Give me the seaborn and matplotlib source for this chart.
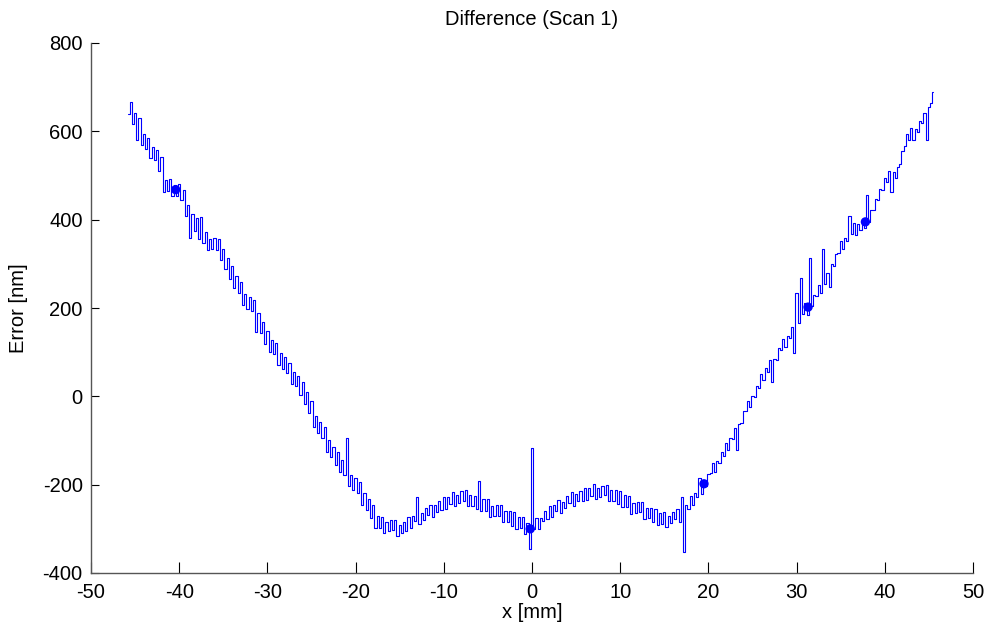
import numpy as np
import pandas as pd
import matplotlib
matplotlib.use("Agg")
import matplotlib.pyplot as plt
import seaborn as sns

# scan positions: 183 samples, 0.5 mm apart; the second reading sits 0.25 mm later
x_mm = np.linspace(-45.75, 45.25, 183)

# two readings per position, nm
y_first = [
    640, 616, 580, 568, 560, 539, 534, 511, 463, 465, 454, 454, 444, 408, 359, 374,
    357, 347, 332, 333, 332, 308, 289, 266, 245, 234, 207, 198, 194, 146, 144, 118,
    101, 95, 72, 62, 52, 29, 23, 2, -17, -37, -70, -84, -94, -125, -138, -156,
    -172, -179, -202, -212, -219, -245, -257, -276, -298, -299, -310, -306, -303, -317, -309, -304,
    -297, -283, -289, -279, -269, -273, -261, -258, -254, -243, -248, -241, -236, -249, -249, -256,
    -259, -259, -274, -272, -270, -285, -284, -293, -300, -299, -312, -346, -300, -301, -283, -278,
    -273, -260, -264, -252, -241, -248, -238, -237, -234, -225, -233, -228, -224, -238, -236, -244,
    -251, -251, -266, -265, -263, -278, -276, -284, -291, -288, -295, -287, -278, -285, -352, -256,
    -245, -227, -220, -202, -174, -172, -151, -136, -121, -97, -122, -60, -34, -25, -1, 20,
    37, 56, 33, 83, 106, 111, 132, 97, 167, 186, 185, 204, 227, 233, 255, 248,
    295, 325, 334, 352, 368, 365, 377, 382, 395, 421, 444, 468, 486, 463, 495, 526,
    567, 581, 580, 598, 618, 580, 664,
]
y_second = [
    667, 642, 630, 594, 584, 565, 558, 541, 490, 491, 479, 480, 468, 434, 413, 404,
    406, 373, 357, 359, 356, 334, 313, 296, 272, 260, 232, 224, 218, 189, 168, 148,
    128, 121, 97, 88, 76, 55, 47, 32, 10, -11, -45, -58, -70, -99, -114, -126,
    -145, -95, -177, -186, -195, -219, -233, -246, -271, -273, -285, -280, -279, -291, -285, -274,
    -270, -227, -264, -253, -245, -247, -237, -228, -227, -217, -223, -215, -212, -223, -225, -192,
    -232, -233, -249, -246, -246, -259, -260, -263, -273, -273, -287, -118, -276, -275, -259, -248,
    -246, -234, -239, -226, -217, -222, -214, -207, -207, -199, -208, -202, -200, -212, -212, -214,
    -224, -225, -241, -239, -239, -252, -252, -254, -264, -262, -270, -261, -254, -227, -245, -226,
    -218, -186, -195, -176, -150, -146, -127, -106, -94, -71, -63, -34, -10, 1, 23, 50,
    64, 82, 85, 109, 130, 137, 156, 233, 269, 212, 313, 230, 251, 333, 279, 299,
    322, 351, 359, 408, 392, 391, 401, 456, 422, 447, 469, 494, 510, 507, 519, 556,
    594, 607, 605, 624, 642, 654, 688,
]

# spots where the scan repeats and the trace looks like a filled blob
blob_x = [-40.4, -0.2, 19.5, 31.3, 37.8]
blob_y = [468, -300, -198, 202, 395]

trace = pd.DataFrame({
    "x": np.column_stack([x_mm, x_mm + 0.25]).ravel(),
    "y": np.column_stack([y_first, y_second]).ravel(),
})
blobs = pd.DataFrame({"x": blob_x, "y": blob_y})

sns.set_theme(style="white", rc={"xtick.bottom": True, "ytick.left": True})
plt.rcParams["font.family"] = ["Liberation Sans", "DejaVu Sans"]
plt.rcParams["axes.unicode_minus"] = False
plt.rcParams["text.color"] = "black"
plt.rcParams["axes.labelcolor"] = "black"

fig = plt.figure(figsize=(9.88, 6.32), dpi=100)
ax = fig.add_axes([91 / 988, 59 / 632, 882 / 988, 530 / 632])

sns.lineplot(data=trace, x="x", y="y", sort=False, estimator=None,
             color="#0000ff", linewidth=0.8, drawstyle="steps-mid", ax=ax)
sns.scatterplot(data=blobs, x="x", y="y", color="#0000ff", s=45,
                edgecolor="none", ax=ax)

ax.set_xlim(-50, 50)
ax.set_ylim(-400, 800)
ax.set_xticks(range(-50, 51, 10))
ax.set_yticks(range(-400, 801, 200))

ax.set_title("Difference (Scan 1)", fontsize=14.5, pad=13, color="black")
ax.set_xlabel("x [mm]", fontsize=14.5)
ax.set_ylabel("Error [nm]", fontsize=14.5)
ax.xaxis.set_label_coords(0.5, -0.056)
ax.yaxis.set_label_coords(-0.071, 0.5)

for side in ["top", "right"]:
    ax.spines[side].set_visible(False)
for side in ["left", "bottom"]:
    ax.spines[side].set_color("#555555")
    ax.spines[side].set_linewidth(1.0)

ax.tick_params(axis="both", direction="in", colors="black", labelsize=14.5,
               width=0.8)
ax.tick_params(axis="x", length=8, pad=7)
ax.tick_params(axis="y", length=6, pad=6)
ax.grid(False)

fig.savefig("out.png", dpi=100)
